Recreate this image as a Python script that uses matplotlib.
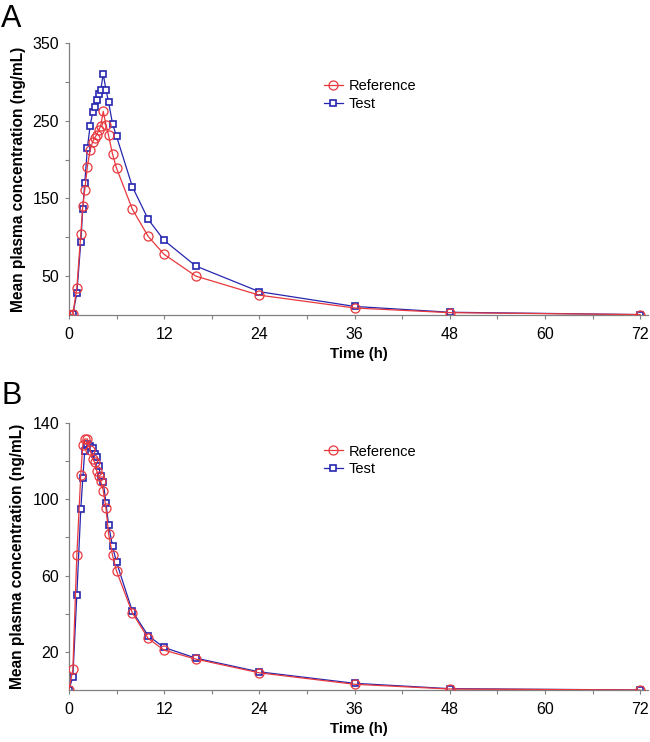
import matplotlib
matplotlib.use("Agg")
import matplotlib.pyplot as plt
from matplotlib.ticker import MultipleLocator, FixedLocator

plt.rcParams['font.family'] = ['Liberation Sans', 'DejaVu Sans']

time_h = [0, 0.5, 1, 1.5, 1.75, 2, 2.33, 2.67, 3, 3.25, 3.5, 3.75, 4, 4.33, 4.67,
          5, 5.5, 6, 8, 10, 12, 16, 24, 36, 48, 72]

# Panel A
a_reference = [0, 1, 35, 104, 140, 161, 191, 212, 223, 228, 232, 237.5, 243, 262, 245,
               231, 207, 189, 136, 101, 78, 50, 25.5, 9, 3, 0.5]
a_test = [0, 1, 28, 94, 137, 170, 215, 243, 261, 268, 277, 284, 289, 310, 290,
          274, 246, 230, 165, 123, 96, 63, 30, 11, 3.5, 0.5]

# Panel B
b_reference = [0, 10.8, 70.6, 113, 128.6, 131.6, 131.6, 126, 121, 119.4, 115, 112.4, 109.8,
               104.6, 95.5, 82, 70.6, 62.4, 40.4, 27, 20.9, 16.2, 9, 3, 0.5, 0]
b_test = [0, 7, 50, 95, 111, 125.5, 129, 128, 127, 124, 122, 117.6, 112.4, 109, 98,
          86.6, 75.3, 67, 41.3, 28.4, 22.3, 16.7, 9.5, 3.5, 0.7, 0]

series_labels = ['Reference', 'Test']
x_ticks = [0, 12, 24, 36, 48, 60, 72]

RED = '#e8383d'
BLUE = '#2626b0'
AXC = '#808080'

fig = plt.figure(figsize=(6.5, 7.42), dpi=100)

def make_panel(rect, ref, test, ymax, ymajor, yminor, letter, letter_y, leg_y):
    ax = fig.add_axes(rect)
    ax.plot(time_h, ref, color=RED, lw=0.9, marker='o', ms=6.5, mfc='none',
            mec=RED, mew=0.9, label=series_labels[0], zorder=3)
    ax.plot(time_h, test, color=BLUE, lw=0.9, marker='s', ms=4.5, mfc='white',
            mec=BLUE, mew=1.2, label=series_labels[1], zorder=2)
    ax.set_xlim(0, 73)
    ax.set_ylim(0, ymax)
    ax.xaxis.set_major_locator(FixedLocator(x_ticks))
    ax.xaxis.set_minor_locator(MultipleLocator(6))
    ax.yaxis.set_major_locator(FixedLocator(ymajor))
    ax.yaxis.set_minor_locator(FixedLocator(yminor))
    for s in ['top', 'right']:
        ax.spines[s].set_visible(False)
    for s in ['left', 'bottom']:
        ax.spines[s].set_color(AXC)
        ax.spines[s].set_linewidth(0.9)
    ax.tick_params(which='both', direction='out', color=AXC, width=0.8,
                   labelsize=11.5, length=3, pad=4)
    ax.tick_params(axis='x', pad=6)
    ax.set_xlabel('Time (h)', fontsize=10.8, fontweight='bold', labelpad=3)
    ax.set_ylabel('Mean plasma concentration (ng/mL)', fontsize=11.2,
                  fontweight='bold', labelpad=5)
    ax.legend(loc='upper left', bbox_to_anchor=(0.43, leg_y), frameon=False,
              fontsize=10.5, handlelength=1.3, handletextpad=0.4,
              labelspacing=0.25, borderaxespad=0)
    fig.text(0.002, letter_y, letter, fontsize=22, ha='left', va='top')
    return ax

make_panel([0.106, 0.5755, 0.891, 0.3666], a_reference, a_test, 350,
           [50, 150, 250, 350], [100, 200, 300], 'A', 0.995, 0.888)
make_panel([0.106, 0.0701, 0.891, 0.3598], b_reference, b_test, 140,
           [20, 60, 100, 140], [40, 80, 120], 'B', 0.486, 0.941)

fig.savefig('out.png', dpi=100)
